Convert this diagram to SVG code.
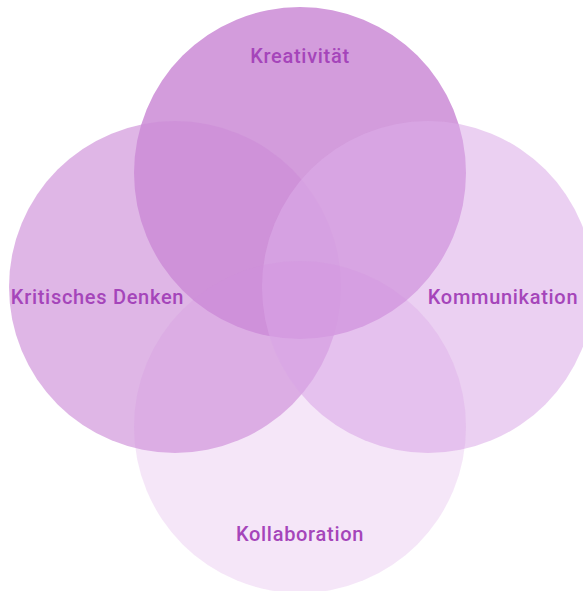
<svg xmlns="http://www.w3.org/2000/svg" width="583" height="591" viewBox="0 0 583 591">
<style>
.t{font-family:Roboto,"Liberation Sans",sans-serif;font-size:20px;font-weight:500;letter-spacing:0.7px;fill:#a545ba;text-anchor:middle}
</style>
<rect width="583" height="591" fill="#ffffff"/>
<g id="kreativitaet"><circle cx="300" cy="173" r="166" fill="#d39cdc"/></g>
<g id="kritisches-denken"><circle cx="175" cy="287" r="166" fill="#cd8dd8" fill-opacity="0.64"/></g>
<g id="kommunikation"><circle cx="428" cy="287" r="166" fill="#dcade8" fill-opacity="0.57"/></g>
<g id="kollaboration"><circle cx="300" cy="427" r="166" fill="#d28ddf" fill-opacity="0.22"/></g>
<g id="labels">
<text class="t" x="300" y="63">Kreativität</text>
<text class="t" x="97.5" y="304">Kritisches Denken</text>
<text class="t" x="503" y="304">Kommunikation</text>
<text class="t" x="300" y="541">Kollaboration</text>
</g>
<g id="connectors"/>
</svg>
